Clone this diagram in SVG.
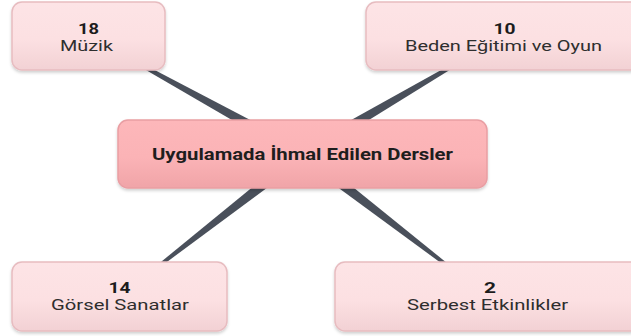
<svg xmlns="http://www.w3.org/2000/svg" width="631" height="336" viewBox="0 0 631 336">
<defs>
<linearGradient id="gChild" x1="0" y1="0" x2="0" y2="1">
<stop offset="0" stop-color="#fde4e6"/>
<stop offset="0.55" stop-color="#fce0e2"/>
<stop offset="1" stop-color="#f2d1d4"/>
</linearGradient>
<linearGradient id="gRoot" x1="0" y1="0" x2="0" y2="1">
<stop offset="0" stop-color="#fdb7ba"/>
<stop offset="0.55" stop-color="#fbb3b6"/>
<stop offset="1" stop-color="#f0a4a8"/>
</linearGradient>
<filter id="sh" x="-10%" y="-20%" width="120%" height="150%">
<feDropShadow dx="0" dy="2" stdDeviation="1.5" flood-color="#000" flood-opacity="0.18"/>
</filter>
</defs>
<style>
.child rect{fill:url(#gChild);stroke:#e7bcc0;stroke-width:1.5;filter:url(#sh)}
.root rect{fill:url(#gRoot);stroke:#e99ea3;stroke-width:1.5;filter:url(#sh)}
.num{font-family:Roboto,"Liberation Sans",sans-serif;font-weight:bold;font-size:14.5px;fill:#1c1c1c;text-anchor:middle}
.lbl{font-family:Roboto,"Liberation Sans",sans-serif;font-size:14.5px;fill:#2e2e2e;text-anchor:middle}
.title{font-family:Roboto,"Liberation Sans",sans-serif;font-weight:bold;font-size:16px;fill:#1e1e1e;text-anchor:middle}
.wedge{fill:#4a505b}
</style>
<g id="connectors">
<polygon class="wedge" points="305.4,148.7 299.6,159.3 88.3,36.4 88.7,35.6"/>
<polygon class="wedge" points="305.5,159.2 299.5,148.8 503.2,35.6 503.8,36.4"/>
<polygon class="wedge" points="306.2,158.7 298.8,149.3 119.2,296.1 119.8,296.9"/>
<polygon class="wedge" points="298.8,158.8 306.2,149.2 487.8,296.1 487.2,296.9"/>
</g>
<g id="node-muzik" class="child">
<rect x="12" y="2" width="153" height="68" rx="10"/>
<text class="num" x="88.5" y="33.5" textLength="21" lengthAdjust="spacingAndGlyphs">18</text>
<text class="lbl" x="86.5" y="50.5" textLength="53" lengthAdjust="spacingAndGlyphs">Müzik</text>
</g>
<g id="node-beden" class="child">
<rect x="366" y="2" width="275" height="68" rx="10"/>
<text class="num" x="504.5" y="33.5" textLength="22" lengthAdjust="spacingAndGlyphs">10</text>
<text class="lbl" x="503.5" y="50.5" textLength="197" lengthAdjust="spacingAndGlyphs">Beden Eğitimi ve Oyun</text>
</g>
<g id="node-root" class="root">
<rect x="118" y="120" width="369" height="68" rx="10"/>
<text class="title" x="302.5" y="160" textLength="301" lengthAdjust="spacingAndGlyphs">Uygulamada İhmal Edilen Dersler</text>
</g>
<g id="node-gorsel" class="child">
<rect x="12" y="262" width="215" height="69" rx="10"/>
<text class="num" x="119.5" y="292.5" textLength="22" lengthAdjust="spacingAndGlyphs">14</text>
<text class="lbl" x="120" y="309.5" textLength="138" lengthAdjust="spacingAndGlyphs">Görsel Sanatlar</text>
</g>
<g id="node-serbest" class="child">
<rect x="335" y="262" width="306" height="69" rx="10"/>
<text class="num" x="490" y="292.5" textLength="12" lengthAdjust="spacingAndGlyphs">2</text>
<text class="lbl" x="487.5" y="309.5" textLength="161" lengthAdjust="spacingAndGlyphs">Serbest Etkinlikler</text>
</g>
</svg>
